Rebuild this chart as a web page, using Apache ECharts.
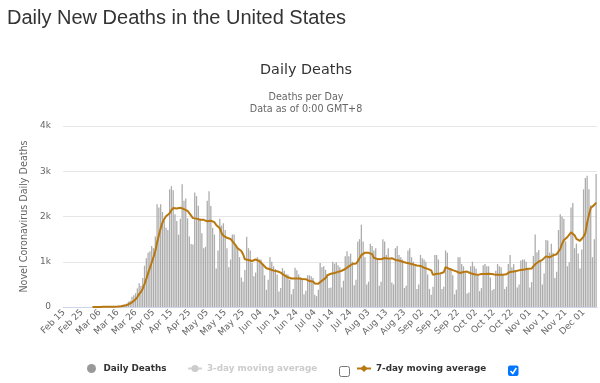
<!DOCTYPE html>
<html><head><meta charset="utf-8">
<script src="https://cdn.jsdelivr.net/npm/echarts@6/dist/echarts.min.js"></script>
<style>html,body{margin:0;padding:0;background:#fff}#c{width:600px;height:383px}</style>
</head><body><div id="c"></div>
<script>
// ---- data ----
const monthNames = ['Feb','Mar','Apr','May','Jun','Jul','Aug','Sep','Oct','Nov','Dec'];
const monthFirstDay = [15,1,1,1,1,1,1,1,1,1,1];

const febDeaths = [0,0,0,0,0,0,0,0,0,0,0,0,0,0,1];
const marDeaths = [1,5,1,4,1,2,3,4,4,5,8,7,10,12,11,23,26,33,52,58,79,118,139,225,261,305,411,526,470,640,912];
const aprDeaths = [1080,1200,1230,1350,1300,1560,2270,2200,2270,2100,1900,1750,1700,2600,2670,2580,2050,1900,1600,1950,2710,2350,2400,1960,1560,1390,1380,2530,2450,2240];
const mayDeaths = [1950,1630,1300,1330,2350,2560,2230,1750,1600,850,1250,1950,1800,1850,1700,1300,880,1050,1600,1600,1350,1300,1100,650,560,820,1550,1300,1250,980,680];
const junDeaths = [760,1100,1050,1050,950,700,380,600,1100,1000,900,840,720,340,420,860,800,730,720,600,280,400,870,810,720,660,600,280,360,700];
const julDeaths = [700,680,640,270,240,380,970,880,900,820,720,420,430,1000,960,990,920,880,430,580,1120,1230,1120,1180,1000,480,600,1450,1500,1820,1450];
const augDeaths = [1100,500,560,1400,1350,1250,1300,1050,470,560,1500,1450,1150,1300,1050,540,500,1300,1350,1150,1100,1050,420,470,1250,1300,1100,1000,900,400,500];
const sepDeaths = [1150,1080,1050,1000,720,400,270,450,1150,1150,1050,720,400,450,1250,1200,850,850,700,280,380,1100,1100,950,900,750,300,320,900,1000];
const octDeaths = [900,850,700,350,420,920,950,900,900,650,370,400,800,950,900,880,700,400,450,950,1150,880,950,800,430,500,1030,1050,1050,1000,850];
const novDeaths = [430,550,1130,1600,1210,1260,1040,500,740,1480,1470,1200,1400,1200,640,780,1700,2050,2000,1950,1450,900,990,2200,2300,1300,1400,1180,850,1270];
const decDeaths = [2600,2850,2900,2600,2250,1100,1500,2940];

const febAvg7 = [null,null,null,null,null,null,null,null,null,null,null,null,null,null,null];
const marAvg7 = [null,1,1,2,2,2,2,3,3,3,4,5,6,7,8,11,14,17,24,31,40,56,72,101,133,169,220,284,334,405,504];
const aprAvg7 = [621,748,865,983,1102,1233,1427,1587,1740,1864,1943,2007,2027,2074,2141,2186,2179,2179,2157,2193,2209,2163,2137,2124,2076,2046,1964,1939,1953,1930];
const mayAvg7 = [1929,1939,1926,1919,1893,1909,1907,1879,1874,1810,1799,1741,1633,1579,1571,1529,1533,1504,1454,1426,1354,1297,1269,1236,1166,1054,1047,1040,1033,1016,1020];
const junAvg7 = [1049,1089,1017,981,939,899,856,833,833,826,804,789,791,786,760,726,697,673,656,639,630,627,629,630,629,620,620,620,614,590];
const julAvg7 = [574,569,566,519,513,516,554,580,611,637,701,727,734,739,750,763,777,800,801,823,840,879,897,934,951,959,961,1009,1047,1147,1186];
const augAvg7 = [1200,1203,1197,1190,1169,1087,1066,1059,1054,1054,1069,1083,1069,1069,1069,1079,1070,1041,1027,1027,999,999,981,977,970,963,956,941,920,917,921];
const sepAvg7 = [907,876,869,869,843,843,810,710,720,734,741,741,741,767,881,889,846,817,814,797,787,766,751,766,773,780,783,774,746,731];
const octAvg7 = [724,717,710,717,731,734,727,727,734,727,730,727,710,710,710,707,714,719,726,747,776,773,783,797,801,809,820,806,830,837,844];
const novAvg7 = [844,851,866,944,967,1004,1031,1041,1069,1119,1100,1099,1119,1141,1161,1167,1199,1281,1396,1474,1510,1547,1577,1649,1684,1584,1506,1467,1460,1500];
const decAvg7 = [1557,1636,1864,2036,2189,2224,2257,2306];

const yTickLabels = ['0','1k','2k','3k','4k'];

const deathMonths = [febDeaths,marDeaths,aprDeaths,mayDeaths,junDeaths,julDeaths,augDeaths,sepDeaths,octDeaths,novDeaths,decDeaths];
const avgMonths = [febAvg7,marAvg7,aprAvg7,mayAvg7,junAvg7,julAvg7,augAvg7,sepAvg7,octAvg7,novAvg7,decAvg7];

const categories = [];
deathMonths.forEach((arr, m) => {
  arr.forEach((_, k) => {
    const d = monthFirstDay[m] + k;
    categories.push(monthNames[m] + ' ' + (d < 10 ? '0' + d : '' + d));
  });
});
const dailyDeaths = [].concat(...deathMonths);
const avg7 = [].concat(...avgMonths);

const FONT = 'DejaVu Sans';
const chart = echarts.init(document.getElementById('c'), null, {renderer: 'canvas'});
const legendText = {fontFamily: FONT, fontSize: 8.8, fontWeight: 'bold', color: '#333'};
chart.setOption({
  animation: false,
  backgroundColor: '#fff',
  title: [
    {text: 'Daily New Deaths in the United States', left: 7, top: 8, textAlign: 'left', padding: 0,
     textStyle: {fontFamily: 'Liberation Sans', fontSize: 20, fontWeight: 'normal', color: '#333'}},
    {text: 'Daily Deaths', left: 306, top: 63, textAlign: 'center', padding: 0,
     textStyle: {fontFamily: FONT, fontSize: 14.4, fontWeight: 'normal', color: '#333'}},
    {text: 'Deaths per Day', left: 306, top: 92, textAlign: 'center', padding: 0,
     textStyle: {fontFamily: FONT, fontSize: 9.6, fontWeight: 'normal', color: '#666'}},
    {text: 'Data as of 0:00 GMT+8', left: 306, top: 104, textAlign: 'center', padding: 0,
     textStyle: {fontFamily: FONT, fontSize: 9.6, fontWeight: 'normal', color: '#666'}}
  ],
  grid: {left: 63, top: 126, width: 534, height: 181, containLabel: false, outerBoundsMode: 'none'},
  legend: [
    {data: [{name: 'Daily Deaths', icon: 'circle', itemStyle: {color: '#999'}}], left: 87, top: 364, padding: 0,
     itemWidth: 14, itemHeight: 9, textStyle: legendText, inactiveColor: '#ccc', selectedMode: false},
    {data: ['3-day moving average'], left: 187, top: 364, padding: 0, itemWidth: 14, itemHeight: 9,
     textStyle: legendText, inactiveColor: '#ccc', selected: {'3-day moving average': false}},
    {data: ['7-day moving average'], left: 356, top: 364, padding: 0, itemWidth: 14, itemHeight: 9,
     textStyle: legendText, inactiveColor: '#ccc'}
  ],
  xAxis: {
    type: 'category', data: categories, boundaryGap: true,
    axisLine: {lineStyle: {color: '#ccd6eb'}},
    axisTick: {show: false},
    axisLabel: {interval: 9, rotate: 45, fontFamily: FONT, fontSize: 9, color: '#666', margin: 4}
  },
  yAxis: {
    type: 'value', min: 0, max: 4000, interval: 1000,
    name: 'Novel Coronavirus Daily Deaths', nameLocation: 'middle', nameGap: 30,
    nameTextStyle: {fontFamily: FONT, fontSize: 9.6, color: '#666'},
    axisLine: {show: false}, axisTick: {show: false},
    axisLabel: {formatter: v => yTickLabels[Math.round(v / 1000)], fontFamily: FONT, fontSize: 9, color: '#666', margin: 12},
    splitLine: {lineStyle: {color: '#e6e6e6'}}
  },
  series: [
    {name: 'Daily Deaths', type: 'bar', data: dailyDeaths, barWidth: '72%',
     itemStyle: {color: '#acacac'}},
    {name: '3-day moving average', type: 'line', data: [], symbol: 'circle', symbolSize: 6,
     itemStyle: {color: '#999'}, lineStyle: {color: '#999', width: 2}},
    {name: '7-day moving average', type: 'line', data: avg7, showSymbol: false, symbol: 'diamond', symbolSize: 8,
     connectNulls: false, itemStyle: {color: '#b8770f'}, lineStyle: {color: '#b8770f', width: 2}}
  ],
  graphic: [
    {type: 'rect', shape: {x: 339.5, y: 366.5, width: 10, height: 10, r: 2},
     style: {fill: '#fff', stroke: '#767676', lineWidth: 1}},
    {type: 'rect', shape: {x: 508, y: 365.5, width: 10.5, height: 10.5, r: 2},
     style: {fill: '#0075ff'}},
    {type: 'polyline', shape: {points: [[510.5, 371], [512.8, 373.5], [516.3, 368]]},
     style: {stroke: '#fff', lineWidth: 1.6, fill: null}}
  ]
});
</script></body></html>
